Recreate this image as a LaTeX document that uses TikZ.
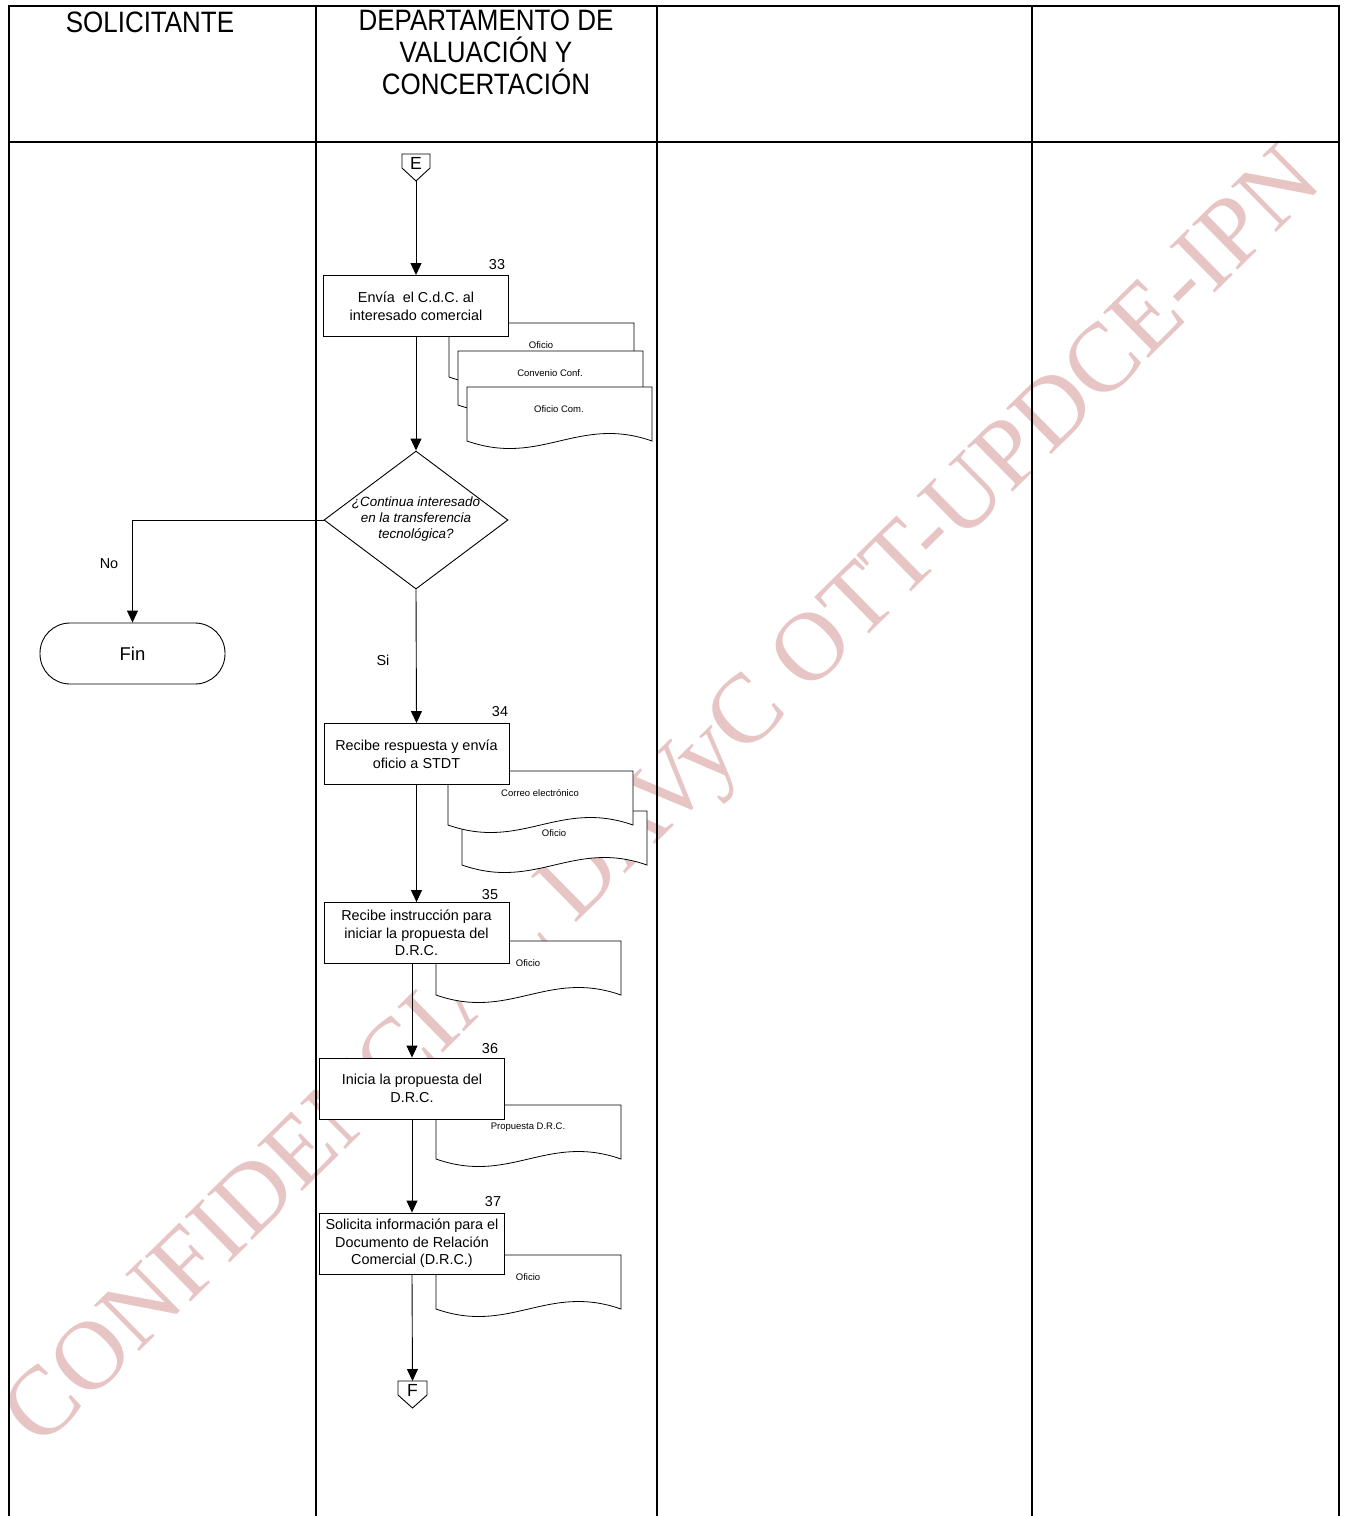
\documentclass[tikz,border=0pt]{standalone}
\usepackage{fontspec}
\setmainfont{Liberation Sans}
\newfontfamily\wmfont{Liberation Serif}
\newfontfamily\hdfont[FakeStretch=0.88]{Liberation Sans}
\usetikzlibrary{arrows.meta,shapes.geometric}
\definecolor{wmpink}{RGB}{232,197,197}
\newcommand\docu[4]{%
  \draw[docline] (#2,#3) -- (#2+185,#3) -- (#2+185,#3+54)
    .. controls (#2+111,#3+28) and (#2+74,#3+80) .. (#2,#3+54) -- cycle;
  \node[doctext] (#1) at (#2+92,#3+22) {#4};}
\begin{document}
\begin{tikzpicture}[x=1pt,y=-1pt,
  lane/.style={line width=1.8pt},
  docline/.style={draw,fill=white,line width=0.8pt},
  doctext/.style={inner sep=0pt,font=\fontsize{9.5}{11}\selectfont},
  proc/.style={draw,fill=white,line width=0.9pt,minimum width=185pt,minimum height=61pt,inner sep=0pt,align=center,font=\fontsize{14.4}{17.6}\selectfont},
  dec/.style={draw,fill=white,diamond,line width=0.9pt,minimum width=184pt,minimum height=138pt,inner sep=0pt},
  dectext/.style={inner sep=0pt,align=center,font=\fontsize{13.4}{16}\selectfont\itshape},
  term/.style={draw,fill=white,line width=0.9pt,rounded corners=30pt,minimum width=185pt,minimum height=61pt,inner sep=0pt,font=\fontsize{18.5}{20}\selectfont},
  conn/.style={draw,fill=white,line width=0.9pt},
  conntext/.style={inner sep=0pt,font=\fontsize{17.5}{18}\selectfont},
  num/.style={inner sep=0pt,font=\fontsize{14.4}{16}\selectfont},
  lbl/.style={inner sep=0pt,font=\fontsize{14.4}{16}\selectfont},
  hd/.style={inner sep=0pt,align=center,font=\hdfont\fontsize{29.5}{32}\selectfont},
  arr/.style={line width=0.9pt,-{Triangle[length=12pt,width=11pt]}},
  wm/.style={inner sep=0pt,anchor=base,rotate=44.55,text=wmpink,font=\wmfont\fontsize{98}{98}\selectfont}
]
\useasboundingbox (0,0) rectangle (1345,1516);
\fill[white] (0,0) rectangle (1345,1516);
% watermark
\node[wm] (wmark) at (683,817) {CONFIDENCIAL DAVyC OTT-UPDCE-IPN};
% lanes
\draw[lane] (9,1516) -- (9,6) -- (1339,6) -- (1339,1516);
\draw[lane] (9,142) -- (1339,142);
\draw[lane] (316,6) -- (316,1516);
\draw[lane] (657,6) -- (657,1516);
\draw[lane] (1032,6) -- (1032,1516);
\node[hd] (h1) at (150,22) {SOLICITANTE};
\node[hd] (h2) at (486,52.5) {DEPARTAMENTO DE\\VALUACIÓN Y\\CONCERTACIÓN};
% documents
\docu{d33a}{449}{323}{Oficio}
\docu{d33b}{458}{351}{Convenio Conf.}
\docu{d33c}{467}{387}{Oficio Com.}
\docu{d34b}{462}{811}{Oficio}
\docu{d34a}{448}{771}{Correo electrónico}
\docu{d35}{436}{941}{Oficio}
\docu{d36}{436}{1105}{Propuesta D.R.C.}
\docu{d37}{436}{1255}{Oficio}
% connector E
\draw[conn] (402,154) -- (430,154) -- (430,168) -- (416,181) -- (402,168) -- cycle;
\node[conntext] (E) at (416,163) {E};
\coordinate (Etip) at (416,181);
% connector F
\draw[conn] (398,1381) -- (427,1381) -- (427,1395) -- (412.5,1408) -- (398,1395) -- cycle;
\node[conntext] (F) at (412.5,1390) {F};
\coordinate (Ftop) at (412.5,1381);
% process boxes
\node[proc] (b33) at (416,306) {Envía\ \ el C.d.C. al\\interesado comercial};
\node[proc] (b34) at (416.5,754) {Recibe respuesta y envía\\oficio a STDT};
\node[proc] (b35) at (416.5,933) {Recibe instrucción para\\iniciar la propuesta del\\D.R.C.};
\node[proc] (b36) at (412,1088.5) {Inicia la propuesta del\\D.R.C.};
\node[proc] (b37) at (412,1243.5) {Solicita información para el\\Documento de Relación\\Comercial (D.R.C.)};
\node[num] (n33) at (497,265) {33};
\node[num] (n34) at (500,712) {34};
\node[num] (n35) at (490,895) {35};
\node[num] (n36) at (490,1049) {36};
\node[num] (n37) at (493,1202) {37};
% decision
\node[dec] (dec) at (416,520) {};
\node[dectext] (dect) at (416,519) {¿Continua interesado\\en la transferencia\\tecnológica?};
% terminal
\node[term] (fin) at (132.5,653.5) {Fin};
% connectors
\draw[arr] (Etip) -- (b33.north);
\draw[arr] (b33.south) -- (dec.north);
\draw[arr] (dec.west) -| (fin.north);
\node[lbl] (no) at (109,564) {No};
\draw[arr] (dec.south) -- (b34.north);
\node[lbl] (si) at (383,660) {Si};
\draw[arr] (b34.south) -- (b35.north);
\draw[arr] (b35.south -| b36.north) -- (b36.north);
\draw[arr] (b36.south) -- (b37.north);
\draw[arr] (b37.south) -- (Ftop);
\end{tikzpicture}
\end{document}
